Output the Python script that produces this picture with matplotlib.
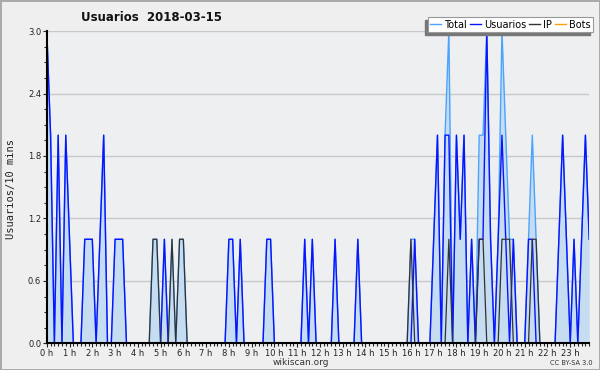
import numpy as np
import matplotlib
matplotlib.use('Agg')
import matplotlib.pyplot as plt
from matplotlib.lines import Line2D
from matplotlib.patches import Rectangle
from matplotlib.ticker import MultipleLocator

# valores cada 10 minutos, una fila por hora (0 h .. 23 h)
total = [3, 2, 0, 2, 0, 2,
         1, 0, 0, 0, 1, 1,
         1, 0, 1, 2, 0, 0,
         1, 1, 1, 0, 0, 0,
         0, 0, 0, 0, 1, 1,
         0, 1, 0, 1, 0, 1,
         1, 0, 0, 0, 0, 0,
         0, 0, 0, 0, 0, 0,
         1, 1, 0, 1, 0, 0,
         0, 0, 0, 0, 1, 1,
         0, 0, 0, 0, 0, 0,
         0, 0, 1, 0, 1, 0,
         0, 0, 0, 0, 1, 0,
         0, 0, 0, 0, 1, 0,
         0, 0, 0, 0, 0, 0,
         0, 0, 0, 0, 0, 0,
         1, 1, 0, 0, 0, 0,
         1, 2, 0, 2, 3, 0,
         2, 1, 2, 0, 1, 0,
         2, 2, 3, 1, 0, 1,
         3, 2, 1, 1, 0, 0,
         0, 1, 2, 1, 0, 0,
         0, 0, 0, 1, 2, 1,
         0, 1, 0, 1, 2, 1]

usuarios = [3, 2, 0, 2, 0, 2,
            1, 0, 0, 0, 1, 1,
            1, 0, 1, 2, 0, 0,
            1, 1, 1, 0, 0, 0,
            0, 0, 0, 0, 0, 0,
            0, 1, 0, 0, 0, 0,
            0, 0, 0, 0, 0, 0,
            0, 0, 0, 0, 0, 0,
            1, 1, 0, 1, 0, 0,
            0, 0, 0, 0, 1, 1,
            0, 0, 0, 0, 0, 0,
            0, 0, 1, 0, 1, 0,
            0, 0, 0, 0, 1, 0,
            0, 0, 0, 0, 1, 0,
            0, 0, 0, 0, 0, 0,
            0, 0, 0, 0, 0, 0,
            0, 1, 0, 0, 0, 0,
            1, 2, 0, 2, 2, 0,
            2, 1, 2, 0, 1, 0,
            1, 1, 3, 1, 0, 1,
            2, 1, 0, 1, 0, 0,
            0, 1, 1, 0, 0, 0,
            0, 0, 0, 1, 2, 1,
            0, 1, 0, 1, 2, 1]

ip = [0, 0, 0, 0, 0, 0,
      0, 0, 0, 0, 0, 0,
      0, 0, 0, 0, 0, 0,
      0, 0, 0, 0, 0, 0,
      0, 0, 0, 0, 1, 1,
      0, 0, 0, 1, 0, 1,
      1, 0, 0, 0, 0, 0,
      0, 0, 0, 0, 0, 0,
      0, 0, 0, 0, 0, 0,
      0, 0, 0, 0, 0, 0,
      0, 0, 0, 0, 0, 0,
      0, 0, 0, 0, 0, 0,
      0, 0, 0, 0, 0, 0,
      0, 0, 0, 0, 0, 0,
      0, 0, 0, 0, 0, 0,
      0, 0, 0, 0, 0, 0,
      1, 0, 0, 0, 0, 0,
      0, 0, 0, 0, 1, 0,
      0, 0, 0, 0, 0, 0,
      1, 1, 0, 0, 0, 0,
      1, 1, 1, 0, 0, 0,
      0, 0, 1, 1, 0, 0,
      0, 0, 0, 0, 0, 0,
      0, 0, 0, 0, 0, 0]

bots = [0] * 144

hour_labels = ['%d h' % h for h in range(24)]
y_ticks = [0.0, 0.6, 1.2, 1.8, 2.4, 3.0]

x = np.arange(len(total))

fig = plt.figure(figsize=(6, 3.7), dpi=100, facecolor='#efefef')
fig.patch.set_edgecolor('#aaaaaa')
fig.patch.set_linewidth(2)
ax = fig.add_axes([0.078, 0.072, 0.904, 0.844])
ax.set_facecolor('#eeeff1')

ax.fill_between(x, total, color='#c6dcf0', lw=0)
ax.plot(x, total, color='#4aa3ff', lw=1.0)
ax.plot(x, usuarios, color='#0a14ff', lw=1.0)
ax.plot(x, ip, color='#333333', lw=0.9)
ax.plot(x, bots, color='#ffa010', lw=0.9)

ax.set_xlim(0, 143)
ax.set_ylim(0, 3)
ax.set_xticks(x[::6])
ax.set_xticklabels(hour_labels)
ax.xaxis.set_minor_locator(MultipleLocator(1))
ax.set_yticks(y_ticks)
ax.set_yticklabels(['%.1f' % v for v in y_ticks])
ax.yaxis.set_minor_locator(MultipleLocator(0.15))
ax.tick_params(which='major', length=3, width=0.8, labelsize=6, pad=1, colors='#222222')
ax.tick_params(which='minor', length=2, width=0.8, colors='#222222')

ax.grid(axis='y', color='#c8c8c8', lw=1)
ax.set_axisbelow(True)
for s in ['top', 'right']:
    ax.spines[s].set_visible(False)
for s in ['left', 'bottom']:
    ax.spines[s].set_linewidth(1.5)
    ax.spines[s].set_zorder(3)

fig.text(0.252, 0.954, 'Usuarios  2018-03-15', ha='center', va='center',
         fontsize=8.5, fontweight='bold', color='#111111')
fig.text(0.018, 0.49, 'Usuarios/10 mins', rotation=90, ha='center', va='center',
         fontsize=7.5, family='DejaVu Sans Mono', color='#222222')
fig.text(0.502, 0.019, 'wikiscan.org', ha='center', va='center', fontsize=6.5, color='#333333')
fig.text(0.987, 0.019, 'CC BY-SA 3.0', ha='right', va='center', fontsize=4.8, color='#333333')

handles = [Line2D([], [], color='#4aa3ff', lw=1.0),
           Line2D([], [], color='#0a14ff', lw=1.0),
           Line2D([], [], color='#333333', lw=1.0),
           Line2D([], [], color='#ffa010', lw=1.0)]
leg = fig.legend(handles, ['Total', 'Usuarios', 'IP', 'Bots'], loc='upper right',
                 bbox_to_anchor=(0.989, 0.953), ncol=4, fontsize=7, frameon=True,
                 fancybox=False, edgecolor='#999999', framealpha=1, borderpad=0.25,
                 handlelength=1.1, handletextpad=0.35, columnspacing=0.3, borderaxespad=0)
leg.get_frame().set_linewidth(0.8)

# sombra del recuadro de la leyenda (abajo a la izquierda)
fig.canvas.draw()
bb = leg.get_window_extent()
W, H = fig.bbox.width, fig.bbox.height
fig.patches.append(Rectangle(((bb.x0 - 3) / W, (bb.y0 - 3) / H), bb.width / W, bb.height / H,
                             transform=fig.transFigure, color='#777777', zorder=4))

fig.savefig('out.png', dpi=100, facecolor=fig.get_facecolor(), edgecolor=fig.get_edgecolor())
